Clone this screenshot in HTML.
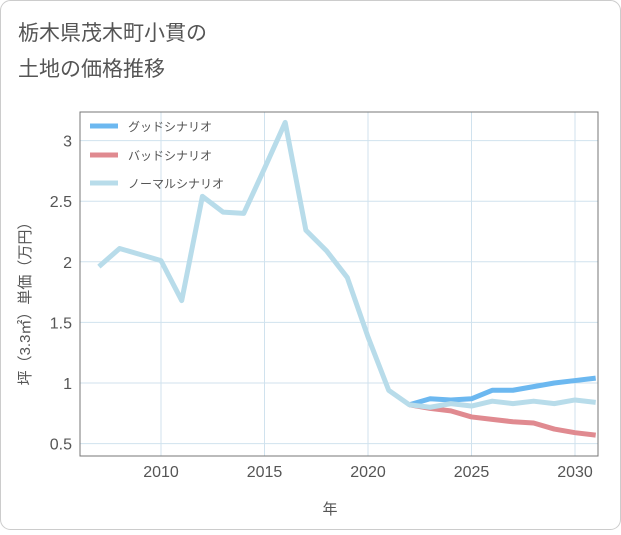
<!DOCTYPE html>
<html><head><meta charset="utf-8"><style>
body{margin:0;background:#fff;}
svg text{font-family:"Liberation Sans","Noto Sans CJK JP",sans-serif;}
</style></head><body>
<svg width="621" height="530">
<rect x="0.5" y="0.5" width="620" height="529" rx="10" fill="#fff" stroke="#ccc"/>
<text x="18" y="40" font-size="21" fill="#555">栃木県茂木町小貫の</text>
<text x="18" y="76" font-size="21" fill="#555">土地の価格推移</text>
<g id="grid"></g>
<rect x="80" y="112" width="518" height="344" fill="none" stroke="#777" stroke-width="1"/>
<g id="series"></g>
<g id="legend">
<line x1="90" y1="126" x2="118" y2="126" stroke="#6cb8f0" stroke-width="5"/>
<text x="128" y="131" font-size="12" fill="#555">グッドシナリオ</text>
<line x1="90" y1="155" x2="118" y2="155" stroke="#e08a90" stroke-width="5"/>
<text x="128" y="160" font-size="12" fill="#555">バッドシナリオ</text>
<line x1="90" y1="183" x2="118" y2="183" stroke="#b8dcea" stroke-width="5"/>
<text x="128" y="188" font-size="12" fill="#555">ノーマルシナリオ</text>
</g>
<text x="330" y="514" font-size="15" fill="#555" text-anchor="middle">年</text>
<text transform="translate(30,300) rotate(-90)" font-size="15" fill="#555" text-anchor="middle">坪（3.3㎡）単価（万円）</text>
</svg>
<script>
const years=[2007,2008,2009,2010,2011,2012,2013,2014,2015,2016,2017,2018,2019,2020,2021,2022,2023,2024,2025,2026,2027,2028,2029,2030,2031];
const normal=[1.96,2.11,2.06,2.01,1.68,2.54,2.41,2.40,2.77,3.15,2.26,2.09,1.87,1.38,0.94,0.82,0.80,0.83,0.81,0.85,0.83,0.85,0.83,0.86,0.84];
const fyears=[2022,2023,2024,2025,2026,2027,2028,2029,2030,2031];
const good=[0.82,0.87,0.86,0.87,0.94,0.94,0.97,1.00,1.02,1.04];
const bad=[0.82,0.79,0.77,0.72,0.70,0.68,0.67,0.62,0.59,0.57];
const xTicks=[2010,2015,2020,2025,2030];
const yTicks=[0.5,1,1.5,2,2.5,3];
const X=v=>161+(v-2010)*20.7, Y=v=>383-(v-1)*121.2;
const ns="http://www.w3.org/2000/svg";
const grid=document.getElementById('grid'), ser=document.getElementById('series');
function mk(tag,attrs,parent){const e=document.createElementNS(ns,tag);for(const k in attrs)e.setAttribute(k,attrs[k]);parent.appendChild(e);return e;}
xTicks.forEach(t=>{
 const l=mk('line',{x1:X(t),x2:X(t),y1:112,y2:456,stroke:'#d0e2ee'},grid);
 
 
 const tx=mk('text',{x:X(t),y:477,'font-size':16,fill:'#555','text-anchor':'middle'},grid);tx.textContent=t;
 
 
});
yTicks.forEach(t=>{
 const l=mk('line',{x1:80,x2:598,y1:Y(t),y2:Y(t),stroke:'#d0e2ee'},grid);
 
 
 const tx=mk('text',{x:72,y:Y(t)+6,'font-size':16,fill:'#555','text-anchor':'end'},grid);tx.textContent=t;
 
 
});
function line(xs,ys,color,name){
 const p=mk('polyline',{points:xs.map((x,i)=>X(x)+','+Y(ys[i])).join(' '),fill:'none',stroke:color,'stroke-width':5,'stroke-linejoin':'round'},ser);
 
 
}
line(fyears,good,'#6cb8f0','good-line');
line(fyears,bad,'#e08a90','bad-line');
line(years,normal,'#b8dcea','normal-line');
const cp=mk('clipPath',{id:'c'},document.querySelector('svg'));mk('rect',{x:80,y:112,width:518,height:344},cp);
ser.setAttribute('clip-path','url(#c)');
</script>
</body></html>
